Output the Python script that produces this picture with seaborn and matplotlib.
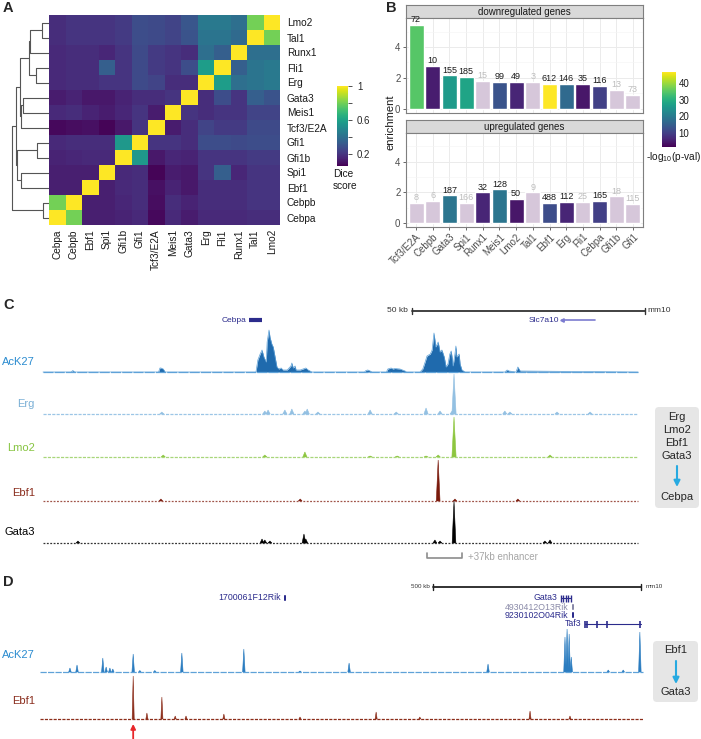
import numpy as np
import pandas as pd
import matplotlib
matplotlib.use('Agg')
import matplotlib.pyplot as plt
import matplotlib.colors as mcolors
from matplotlib.cm import ScalarMappable
from matplotlib.patches import FancyBboxPatch
from matplotlib.ticker import MultipleLocator
import seaborn as sns

sns.set_style('white')
plt.rcParams['font.family'] = ['Liberation Sans', 'DejaVu Sans']
plt.rcParams['mathtext.fontset'] = 'custom'
plt.rcParams['mathtext.rm'] = 'Liberation Sans'
plt.rcParams['mathtext.it'] = 'Liberation Sans:italic'
plt.rcParams['mathtext.bf'] = 'Liberation Sans:bold'

W, H = 701, 739

# ---------------- A: dice scores between TF binding sets ----------------
tf_cols = ['Cebpa', 'Cebpb', 'Ebf1', 'Spi1', 'Gfi1b', 'Gfi1', 'Tcf3/E2A', 'Meis1',
           'Gata3', 'Erg', 'Fli1', 'Runx1', 'Tal1', 'Lmo2']
tf_rows = tf_cols[::-1]
dice = [
    [0.18, 0.20, 0.20, 0.20, 0.22, 0.28, 0.27, 0.25, 0.31, 0.44, 0.44, 0.40, 0.80, 1.00],
    [0.18, 0.20, 0.20, 0.20, 0.22, 0.28, 0.27, 0.25, 0.30, 0.42, 0.42, 0.38, 1.00, 0.80],
    [0.17, 0.18, 0.18, 0.16, 0.20, 0.27, 0.22, 0.20, 0.18, 0.40, 0.34, 1.00, 0.40, 0.40],
    [0.17, 0.18, 0.18, 0.34, 0.20, 0.27, 0.22, 0.20, 0.28, 0.58, 1.00, 0.34, 0.42, 0.44],
    [0.17, 0.18, 0.18, 0.20, 0.20, 0.27, 0.25, 0.18, 0.18, 1.00, 0.58, 0.40, 0.42, 0.44],
    [0.13, 0.15, 0.12, 0.12, 0.15, 0.18, 0.18, 0.20, 1.00, 0.18, 0.28, 0.20, 0.34, 0.30],
    [0.17, 0.18, 0.15, 0.13, 0.16, 0.20, 0.13, 1.00, 0.20, 0.18, 0.20, 0.20, 0.25, 0.25],
    [0.08, 0.09, 0.10, 0.07, 0.12, 0.20, 1.00, 0.13, 0.18, 0.25, 0.22, 0.22, 0.27, 0.27],
    [0.17, 0.18, 0.18, 0.18, 0.56, 1.00, 0.20, 0.20, 0.18, 0.28, 0.28, 0.27, 0.28, 0.28],
    [0.15, 0.16, 0.17, 0.17, 1.00, 0.56, 0.12, 0.16, 0.15, 0.20, 0.20, 0.20, 0.22, 0.22],
    [0.14, 0.14, 0.14, 1.00, 0.17, 0.18, 0.07, 0.13, 0.12, 0.20, 0.34, 0.16, 0.20, 0.20],
    [0.14, 0.14, 1.00, 0.14, 0.17, 0.18, 0.10, 0.15, 0.12, 0.18, 0.18, 0.18, 0.20, 0.20],
    [0.80, 1.00, 0.14, 0.14, 0.16, 0.18, 0.09, 0.18, 0.15, 0.18, 0.18, 0.18, 0.20, 0.20],
    [1.00, 0.80, 0.14, 0.14, 0.15, 0.17, 0.08, 0.17, 0.13, 0.17, 0.17, 0.17, 0.18, 0.18],
]
# row dendrogram: (child, child, height); ints refer to earlier merges
dendro_merges = [
    ('Lmo2', 'Tal1', 7), ('Fli1', 'Erg', 13), (0, 'Runx1', 19.5), (2, 1, 20),
    ('Gata3', 'Meis1', 26.5), (4, 'Tcf3/E2A', 28), (3, 5, 29.5),
    ('Gfi1', 'Gfi1b', 12), ('Spi1', 'Ebf1', 28), (7, 8, 32), (6, 9, 33),
    ('Cebpb', 'Cebpa', 6), (10, 11, 37),
]

# ---------------- B: enrichment of TF targets ----------------
enr_genes = ['Tcf3/E2A', 'Cebpb', 'Gata3', 'Spi1', 'Runx1', 'Meis1', 'Lmo2', 'Tal1',
             'Ebf1', 'Erg', 'Fli1', 'Cebpa', 'Gfi1b', 'Gfi1']
down_enrich = [5.42, 2.80, 2.17, 2.06, 1.83, 1.76, 1.76, 1.72, 1.61, 1.61, 1.59, 1.50, 1.25, 0.90]
down_n = [72, 10, 155, 185, 15, 99, 49, 3, 612, 146, 35, 116, 13, 73]
down_logp = [35, 5, 26, 28, 1.5, 13, 6, 1.5, 47, 17, 4, 10, 1.5, 1.5]
down_sig = [True, True, True, True, False, True, True, False, True, True, True, True, False, False]
up_enrich = [1.29, 1.42, 1.80, 1.29, 2.00, 2.19, 1.55, 2.00, 1.29, 1.35, 1.35, 1.42, 1.74, 1.23]
up_n = [8, 6, 187, 166, 32, 128, 50, 9, 488, 112, 25, 165, 18, 115]
up_logp = [1.5, 1.5, 19, 1.5, 6, 19, 4, 1.5, 12, 6, 1.5, 10, 1.5, 1.5]
up_sig = [False, False, True, False, True, True, True, False, True, True, False, True, False, False]

# ---------------- C: Cebpa locus (kb from left edge) ----------------
c_ack_kb = [0, 6.0, 6.4, 6.8, 24.8, 25.1, 25.3, 25.8, 26.2, 45.5, 45.7, 46.1, 46.6, 47.0, 47.4,
            47.9, 48.1, 48.5, 48.7, 49.1, 49.4, 49.8, 50.2, 50.6, 51.1, 51.5, 52.4, 53.2, 53.4,
            53.7, 54.1, 54.3, 55.2, 55.8, 56.4, 56.9, 57.7, 69.0, 69.3, 69.7, 70.2, 70.6, 73.7,
            74.0, 74.7, 75.1, 75.5, 76.6, 77.7, 78.0, 80.9, 81.5, 82.0, 82.4, 83.1, 83.5, 83.9,
            84.3, 84.8, 85.2, 85.6, 86.1, 86.5, 86.9, 87.3, 87.6, 87.8, 88.0, 88.4, 88.6, 88.8,
            89.3, 89.5, 89.9, 90.6, 99.1, 99.6, 100.0, 101.5, 101.9, 102.4, 127.7]
c_ack_h = [0, 0, 1.5, 0, 0, 4, 4, 3, 0, 0, 0, 12, 18, 22, 15,
           10, 30, 42, 35, 28, 25, 15, 5, 3, 4, 2, 2, 6, 9,
           4, 6, 2, 2, 3, 4, 2, 0, 0, 1.5, 2, 1, 0, 0,
           3, 4, 3, 3.5, 3, 1, 0, 0, 3, 10, 16, 18, 22, 39,
           25, 30, 20, 22, 15, 5, 8, 18, 21, 14, 6, 18, 26, 15,
           18, 8, 2, 0, 0, 2, 1, 0, 5, 1, 0]
c_erg_kb = [25.5, 47.6, 48.3, 51.9, 53.4, 56.2, 56.7, 59.0, 70.2, 75.8, 82.2, 85.2, 87.8, 88.2,
            99.1, 100.2, 110.3, 117.4]
c_erg_h = [2, 3, 4, 4, 5, 3, 5, 2, 4, 2, 6, 3, 3, 40, 3, 2, 2, 2]
c_lmo2_kb = [25.8, 47.6, 56.2, 70.2, 76.0, 82.2, 84.8, 88.2, 108.8]
c_lmo2_h = [2, 2, 5, 1, 1, 1, 2, 40, 2]
c_ebf1_kb = [25.3, 55.2, 84.8, 88.4, 101.9]
c_ebf1_h = [2, 2, 41, 2, 2]
c_gata3_kb = [7.5, 47.0, 47.6, 48.7, 56.0, 56.4, 84.1, 85.2, 88.2, 107.7, 108.8]
c_gata3_h = [2, 4, 3, 2, 9, 4, 3, 2, 42, 2, 3]
c_gene_names = ['Cebpa', 'Slc7a10']
c_gene_start = [44.2, 111.4]
c_gene_end = [47.0, 118.5]
c_enhancer = [82.4, 89.9]

# ---------------- D: Gata3 locus (kb from left edge) ----------------
d_ack_kb = [72, 89, 151, 159, 168, 175, 224, 240, 276, 341, 490, 625, 743, 1077,
            1262, 1267, 1272, 1277, 1366, 1402, 1442]
d_ack_h = [4, 7, 14, 5, 4, 3, 18, 1.5, 1.5, 19, 23, 1, 9, 8, 35, 43, 38, 15, 2, 2, 40]
d_ebf1_kb = [224, 257, 293, 325, 351, 442, 625, 808, 913, 1178, 1274]
d_ebf1_h = [43, 6, 22, 3, 3, 5, 2, 7, 2, 8, 3]
d_gene_names = ['1700061F12Rik', 'Gata3', '4930412O13Rik', '9230102O04Rik', 'Taf3']
d_gene_start = [586, 1252, 1279, 1279, 1310]
d_gene_end = [592, 1277, 1283, 1283, 1445]
d_taf3_exons = [1310, 1316, 1340, 1362, 1443]
d_gata3_exons = [1252, 1258, 1264, 1270, 1277]
d_arrow_kb = 224

fig = plt.figure(figsize=(W / 100, H / 100), dpi=100)


def px_axes(x0, y0, x1, y1):
    return fig.add_axes([x0 / W, 1 - y1 / H, (x1 - x0) / W, (y1 - y0) / H])


# ---- panel A ----
hm_ax = px_axes(49, 15, 280, 225)
cb_ax = px_axes(337, 86, 348, 166)
dice_df = pd.DataFrame(dice, index=tf_rows, columns=tf_cols)
sns.heatmap(dice_df, ax=hm_ax, cmap='viridis', vmin=0.06, vmax=1.0, cbar_ax=cb_ax,
            xticklabels=True, yticklabels=True)
hm_ax.yaxis.tick_right()
hm_ax.tick_params(axis='both', length=0, labelsize=7.3, colors='#1a1a1a')
hm_ax.tick_params(axis='y', pad=5)
hm_ax.tick_params(axis='x', pad=3)
hm_ax.set_yticklabels(tf_rows, rotation=0)
hm_ax.set_xticklabels(tf_cols, rotation=90)
hm_ax.set_xlabel('')
hm_ax.set_ylabel('')
cb = hm_ax.collections[0].colorbar
cb.outline.set_visible(False)
cb.set_ticks([0.2, 0.4, 0.6, 0.8, 1.0])
cb.ax.set_yticklabels(['0.2', '', '0.6', '', '1'])
cb.ax.tick_params(labelsize=7, length=3, width=0.6, color='#333333', right=True)

dax = px_axes(10, 15, 49, 225)
dax.set_ylim(len(tf_rows), 0)
dax.set_xlim(39, 0)
dax.axis('off')
nodes = []
for a, b, h in dendro_merges:
    pts = []
    for c in (a, b):
        if isinstance(c, str):
            pts.append((tf_rows.index(c) + 0.5, 0.0))
        else:
            pts.append(nodes[c])
    (ya, ha), (yb, hb) = pts
    dax.plot([ha, h, h, hb], [ya, ya, yb, yb], color='#555555', lw=0.8,
             solid_capstyle='butt')
    nodes.append(((ya + yb) / 2, h))

# ---- panel B ----
cmap = plt.get_cmap('viridis')
norm_p = mcolors.Normalize(vmin=1.3, vmax=47)


def bar_colors(logp, sig):
    out = []
    for p, s in zip(logp, sig):
        c = np.array(cmap(norm_p(p))[:3])
        if not s:
            c = 0.22 * c + 0.78
        out.append(mcolors.to_hex(c))
    return out


def facet(strip_ax, ax, title, enrich, counts, logp, sig, show_x):
    strip_ax.set_facecolor('#d9d9d9')
    strip_ax.set_xticks([])
    strip_ax.set_yticks([])
    for s in strip_ax.spines.values():
        s.set_color('#7f7f7f')
        s.set_linewidth(0.8)
    strip_ax.text(0.5, 0.45, title, ha='center', va='center', fontsize=7,
                  color='#1a1a1a', transform=strip_ax.transAxes)

    df = pd.DataFrame({'gene': enr_genes, 'enrichment': enrich})
    pal = dict(zip(enr_genes, bar_colors(logp, sig)))
    sns.barplot(data=df, x='gene', y='enrichment', hue='gene', order=enr_genes,
                hue_order=enr_genes, palette=pal, legend=False, saturation=1,
                width=0.9, ax=ax)
    ax.set_axisbelow(True)
    ax.set_xlim(-0.6, len(enr_genes) - 0.4)
    ax.set_ylim(-0.27, 5.88)
    ax.set_yticks([0, 2, 4])
    ax.yaxis.set_minor_locator(MultipleLocator(1))
    ax.grid(which='major', color='#ebebeb', lw=0.7)
    ax.grid(which='minor', axis='y', color='#f4f4f4', lw=0.4)
    for s in ax.spines.values():
        s.set_color('#7f7f7f')
        s.set_linewidth(0.8)
    ax.set_xlabel('')
    ax.set_ylabel('')
    ax.tick_params(axis='y', left=True, length=2.5, width=0.6, color='#4d4d4d',
                   labelsize=7, labelcolor='#4d4d4d', pad=1.5)
    for i, (h, n, s) in enumerate(zip(enrich, counts, sig)):
        ax.text(i, h + 0.05, str(n), ha='center', va='bottom', fontsize=6.5,
                color='#1a1a1a' if s else '#bdbdbd')
    if show_x:
        ax.tick_params(axis='x', bottom=True, length=2.5, width=0.6, color='#4d4d4d',
                       labelsize=7, labelcolor='#4d4d4d', pad=1)
        ax.set_xticks(range(len(enr_genes)))
        ax.set_xticklabels(enr_genes, rotation=45, ha='right', rotation_mode='anchor')
    else:
        ax.tick_params(axis='x', bottom=False, labelbottom=False)


top_strip = px_axes(406, 5, 643, 18)
top_ax = px_axes(406, 18, 643, 113)
bot_strip = px_axes(406, 120, 643, 133)
bot_ax = px_axes(406, 133, 643, 227)
facet(top_strip, top_ax, 'downregulated genes', down_enrich, down_n, down_logp, down_sig, False)
facet(bot_strip, bot_ax, 'upregulated genes', up_enrich, up_n, up_logp, up_sig, True)

pcb_ax = px_axes(662, 72, 676, 147)
pcb = fig.colorbar(ScalarMappable(norm=norm_p, cmap=cmap), cax=pcb_ax)
pcb.outline.set_visible(False)
pcb.set_ticks([10, 20, 30, 40])
pcb.ax.tick_params(labelsize=7, length=3, width=0.6, color='white', direction='in',
                   labelcolor='#1a1a1a', pad=2)

# ---- panels C and D: genome tracks ----
C_SPAN = (650 - 43) * 50 / 233
D_SPAN = (650 - 40) * 500 / 208


def track(x0, base, height, span, end_kb, color, dash):
    ax = px_axes(x0, base - height, 650, base)
    ax.set_xlim(0, span)
    ax.set_ylim(0, height)
    ax.axis('off')
    ax.plot([0, end_kb], [0, 0], color=color, lw=0.9, dashes=dash, clip_on=False)
    return ax


def peaks(ax, pos, hts, color, half):
    for p, h in zip(pos, hts):
        ax.fill([p - half, p, p + half], [0, h, 0], color=color, lw=0.4, ec=color,
                clip_on=False)


ack_fill, ack_edge = '#1f6aad', '#5fa2d8'
ax = track(43, 372, 42, C_SPAN, 127.7, ack_edge, (8, 1))
ax.fill_between(c_ack_kb, c_ack_h, color=ack_fill, lw=0, clip_on=False)
ax.plot(c_ack_kb, c_ack_h, color=ack_edge, lw=0.5, clip_on=False)
ax = track(43, 414, 42, C_SPAN, 127.7, '#9cc6e6', (2.5, 1))
peaks(ax, c_erg_kb, c_erg_h, '#93c0e2', 0.45)
ax = track(43, 457, 42, C_SPAN, 127.7, '#a8d67a', (2.5, 1))
peaks(ax, c_lmo2_kb, c_lmo2_h, '#8dc63f', 0.45)
ax = track(43, 501, 42, C_SPAN, 127.7, '#a0554a', (1.5, 1.2))
peaks(ax, c_ebf1_kb, c_ebf1_h, '#7a1a0c', 0.4)
ax = track(43, 543, 42, C_SPAN, 127.7, '#333333', (1.5, 1.2))
peaks(ax, c_gata3_kb, c_gata3_h, '#000000', 0.4)

ax = track(40, 672, 44, D_SPAN, 1450, ack_edge, (5, 1))
peaks(ax, d_ack_kb, d_ack_h, '#2a7cc0', 3.0)
ax = track(40, 719, 44, D_SPAN, 1450, '#8c2d1a', (2.5, 1))
peaks(ax, d_ebf1_kb, d_ebf1_h, '#8c2d1a', 2.5)

gene_col = '#2b2b8c'
annC = px_axes(43, 295, 650, 560)
annC.set_xlim(0, C_SPAN)
annC.set_ylim(560, 295)
annC.axis('off')
annC.plot([79.2, 129.2], [311, 311], color='#333333', lw=1.3)
annC.plot([79.2, 79.2], [308, 314], color='#333333', lw=1.0)
annC.plot([129.2, 129.2], [308, 314], color='#333333', lw=1.0)
annC.text(78.3, 311, '50 kb', ha='right', va='center', fontsize=6, color='#333333')
annC.text(129.8, 311, 'mm10', ha='left', va='center', fontsize=6, color='#333333')
annC.plot([c_gene_start[0], c_gene_end[0]], [320, 320], color=gene_col, lw=3,
          solid_capstyle='butt')
annC.text(c_gene_start[0] - 0.6, 320, c_gene_names[0], ha='right', va='center',
          fontsize=6, color=gene_col)
annC.plot([c_gene_start[1], c_gene_end[1]], [320, 320], color='#7b7bd0', lw=1.2)
annC.plot([c_gene_start[1]], [320], marker='<', ms=2.5, color='#7b7bd0')
annC.text(c_gene_start[1] - 0.6, 320, c_gene_names[1], ha='right', va='center',
          fontsize=6, color=gene_col)
e0, e1 = c_enhancer
annC.plot([e0, e0, e1, e1], [553, 558, 558, 553], color='#8c8c8c', lw=1.2)
annC.text(e1 + 1.3, 557, '+37kb enhancer', ha='left', va='center', fontsize=7,
          color='#a6a6a6')

annD = px_axes(40, 570, 650, 739)
annD.set_xlim(0, D_SPAN)
annD.set_ylim(739, 570)
annD.axis('off')
annD.plot([945, 1445], [587, 587], color='#222222', lw=1.3)
annD.plot([945, 945], [584, 590], color='#222222', lw=1.0)
annD.plot([1445, 1445], [584, 590], color='#222222', lw=1.0)
annD.text(938, 587, '500 kb', ha='right', va='center', fontsize=4.5, color='#333333')
annD.text(1455, 587, 'mm10', ha='left', va='center', fontsize=4.5, color='#333333')
gene_rows = [598, 598, 607, 615, 624]
for name, g0, g1, gy in zip(d_gene_names, d_gene_start, d_gene_end, gene_rows):
    col = '#8a8aa8' if name == '4930412O13Rik' else gene_col
    if name == 'Taf3':
        annD.plot([g0, g1], [gy, gy], color=col, lw=0.8)
        annD.vlines(d_taf3_exons, gy - 3.5, gy + 3.5, color=col, lw=1.2)
    elif name == 'Gata3':
        annD.plot([g0, g1], [gy, gy], color=col, lw=0.8)
        annD.vlines(d_gata3_exons, gy - 3.5, gy + 3.5, color=col, lw=1.0)
    else:
        annD.plot([g0, g1], [gy, gy], color=col, lw=4, solid_capstyle='butt')
    annD.text(g0 - 8, gy, name, ha='right', va='center', fontsize=6.3, color=col)
annD.annotate('', xy=(d_arrow_kb, 724), xytext=(d_arrow_kb, 739),
              arrowprops=dict(arrowstyle='-|>', color='#e8262a', lw=1.3,
                              mutation_scale=7, shrinkA=0, shrinkB=0),
              annotation_clip=False)

# ---- overlay: letters, labels, boxes ----
ov = px_axes(0, 0, W, H)
ov.set_xlim(0, W)
ov.set_ylim(H, 0)
ov.axis('off')
ov.patch.set_alpha(0)
for letter, x, y in [('A', 3, 8), ('B', 386, 8), ('C', 3, 305), ('D', 3, 582)]:
    ov.text(x, y, letter, ha='left', va='center', fontsize=10.5, fontweight='bold')
ov.text(333, 169, 'Dice\nscore', ha='left', va='top', fontsize=7.3, linespacing=1.25,
        color='#1a1a1a')
ov.text(391, 122, 'enrichment', ha='center', va='center', rotation=90, fontsize=8,
        color='#1a1a1a')
ov.text(674, 157, '-log$_{10}$(p-val)', ha='center', va='center', fontsize=7.3,
        color='#1a1a1a')

for name, y, col in [('AcK27', 362, '#2b8cd0'), ('Erg', 404, '#7bb0d6'),
                     ('Lmo2', 448, '#86c440'), ('Ebf1', 493, '#8b2e1e'),
                     ('Gata3', 532, '#000000'), ('AcK27', 655, '#2b8cd0'),
                     ('Ebf1', 701, '#8b2e1e')]:
    ov.text(35, y, name, ha='right', va='center', fontsize=8, color=col)

for x0, y0, x1, y1 in [(655, 407, 699, 508), (653, 641, 698, 702)]:
    ov.add_patch(FancyBboxPatch((x0 + 4, y0 + 4), x1 - x0 - 8, y1 - y0 - 8,
                                boxstyle='round,pad=4', fc='#e6e6e6', ec='none'))
for txt, y in [('Erg', 417), ('Lmo2', 430), ('Ebf1', 443), ('Gata3', 456), ('Cebpa', 497)]:
    ov.text(677, y, txt, ha='center', va='center', fontsize=8)
for txt, y in [('Ebf1', 650), ('Gata3', 692)]:
    ov.text(676, y, txt, ha='center', va='center', fontsize=8)
for x, y0, y1 in [(677, 466, 487), (676, 661, 684)]:
    ov.annotate('', xy=(x, y1), xytext=(x, y0),
                arrowprops=dict(arrowstyle='-|>', color='#27aae1', lw=1.5,
                                mutation_scale=9, shrinkA=0, shrinkB=0))

fig.savefig('out.png', dpi=100)
